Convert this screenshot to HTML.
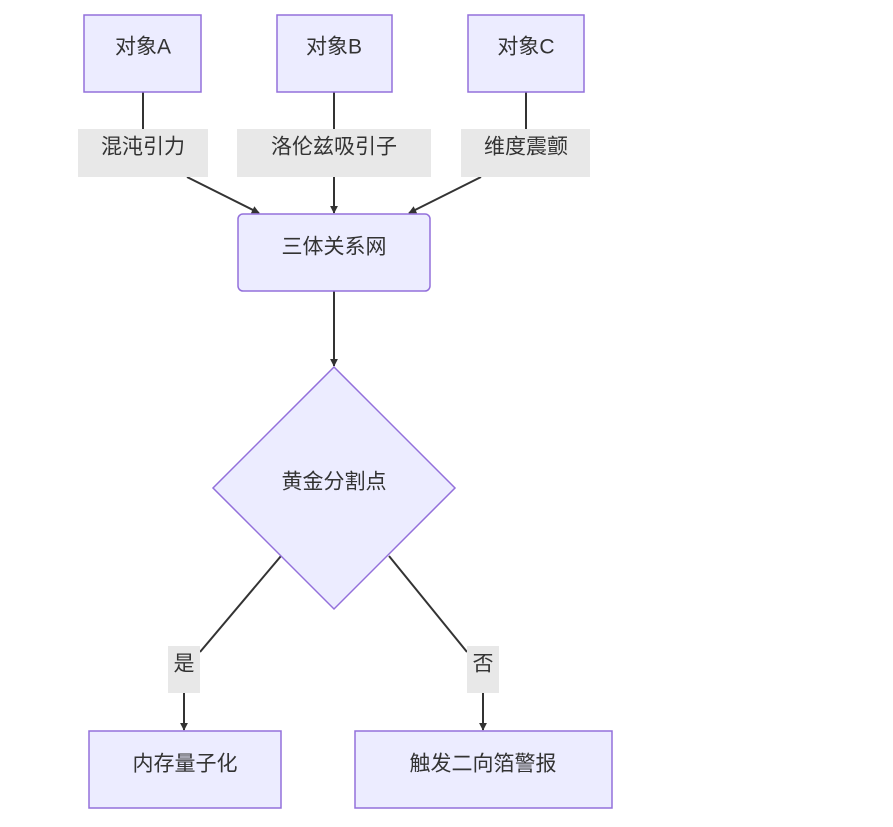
<!DOCTYPE html>
<html><head><meta charset="utf-8"><style>
html,body{margin:0;padding:0;background:#fff;}
svg text{font-family:"Liberation Sans","Noto Sans CJK SC",sans-serif;font-size:21px;fill:#333;text-anchor:middle;dominant-baseline:central;}
</style></head><body>
<svg width="893" height="822" viewBox="0 0 893 822" xmlns="http://www.w3.org/2000/svg">
<defs><marker id="ar" viewBox="0 0 10 10" refX="9" refY="5" markerWidth="8" markerHeight="8" orient="auto" markerUnits="userSpaceOnUse"><path d="M0,0L10,5L0,10z" fill="#333"/></marker></defs>
<g stroke="#333" stroke-width="2" fill="none">
<line x1="143" y1="92" x2="143" y2="129"/>
<line x1="187" y1="177" x2="259" y2="213" marker-end="url(#ar)"/>
<line x1="334" y1="92" x2="334" y2="129"/>
<line x1="334" y1="177" x2="334" y2="213" marker-end="url(#ar)"/>
<line x1="526" y1="92" x2="526" y2="129"/>
<line x1="481" y1="177" x2="409" y2="213" marker-end="url(#ar)"/>
<line x1="334" y1="291" x2="334" y2="366" marker-end="url(#ar)"/>
<line x1="281" y1="556" x2="200" y2="652"/>
<line x1="184" y1="693" x2="184" y2="730" marker-end="url(#ar)"/>
<line x1="389" y1="556" x2="467" y2="652"/>
<line x1="483" y1="693" x2="483" y2="730" marker-end="url(#ar)"/>
</g>
<g fill="#ECECFF" stroke="#9370DB" stroke-width="1.5">
<rect x="84" y="15" width="117" height="77"/>
<rect x="277" y="15" width="115" height="77"/>
<rect x="468" y="15" width="116" height="77"/>
<rect x="238" y="214" width="192" height="77" rx="5"/>
<polygon points="334,367 455,488 334,609 213,488"/>
<rect x="89" y="731" width="192" height="77"/>
<rect x="355" y="731" width="257" height="77"/>
</g>
<g fill="#e8e8e8">
<rect x="78" y="129" width="130" height="48"/>
<rect x="237" y="129" width="194" height="48"/>
<rect x="461" y="129" width="129" height="48"/>
<rect x="168" y="646" width="32" height="47"/>
<rect x="467" y="646" width="32" height="47"/>
</g>
<text x="143" y="47">对象A</text>
<text x="334" y="47">对象B</text>
<text x="526" y="47">对象C</text>
<text x="143" y="147">混沌引力</text>
<text x="334" y="147">洛伦兹吸引子</text>
<text x="526" y="147">维度震颤</text>
<text x="334" y="247">三体关系网</text>
<text x="334" y="482">黄金分割点</text>
<text x="184" y="664">是</text>
<text x="483" y="664">否</text>
<text x="185" y="764">内存量子化</text>
<text x="483" y="764">触发二向箔警报</text>
</svg>
</body></html>
